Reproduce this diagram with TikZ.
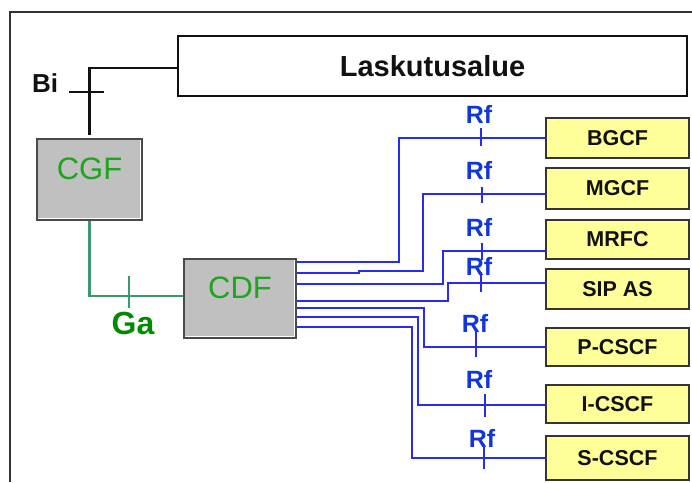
\documentclass[tikz,border=0pt]{standalone}
\usepackage{fontspec}
\setmainfont{Liberation Sans}
\usepackage{tikz}
\usetikzlibrary{positioning,calc}
\definecolor{ink}{HTML}{111111}
\definecolor{frameline}{HTML}{333333}
\definecolor{boxgray}{HTML}{C0C0C0}
\definecolor{boxedge}{HTML}{4A4A4A}
\definecolor{yellowbg}{HTML}{FFFF99}
\definecolor{fngreen}{HTML}{1EA51E}
\definecolor{gagreen}{HTML}{008A00}
\definecolor{greenline}{HTML}{3A9A6E}
\definecolor{rfblue}{HTML}{1236D8}
\definecolor{blueline}{HTML}{2A2AF5}
\tikzset{
  every node/.style={text=ink,inner sep=0pt},
  frame/.style={draw=frameline,line width=1.8pt},
  billing/.style={draw=ink,line width=1.5pt,fill=white,minimum width=509,minimum height=60,font=\fontsize{29}{32}\selectfont\bfseries},
  chargebox/.style={draw=boxedge,line width=1.6pt,fill=boxgray,text=fngreen,font=\fontsize{31}{34}\selectfont,text height=22pt,text depth=23pt},
  bevel/.style={draw=white,line width=1.4pt},
  nodebox/.style={draw=ink!85,line width=1.5pt,fill=yellowbg,minimum width=143,font=\fontsize{21.5}{24}\selectfont\bfseries},
  iflabel/.style={font=\fontsize{26}{29}\selectfont\bfseries},
  rflabel/.style={font=\fontsize{25}{28}\selectfont\bfseries,text=rfblue},
  galabel/.style={font=\fontsize{32}{35}\selectfont\bfseries,text=gagreen},
  biline/.style={draw=ink,line width=2.6pt},
  bitick/.style={draw=ink,line width=1.5pt},
  galine/.style={draw=greenline,line width=2.4pt},
  gatick/.style={draw=greenline,line width=1.4pt},
  rfline/.style={draw=blueline,line width=1.8pt},
  rftick/.style={draw=blueline,line width=1.5pt}
}
\begin{document}
\begin{tikzpicture}[x=1pt,y=-1pt]
  \useasboundingbox (0,0) rectangle (692,482);
  \draw[frame] (10,482) -- (10,12) -- (692,12);

  % billing domain and charging functions
  \node[billing] (lask) at (432.5,66) {Laskutusalue};
  \node[chargebox,minimum width=105,minimum height=81] (cgf) at (89.5,179.5) {CGF};
  \node[chargebox,minimum width=112,minimum height=79] (cdf) at (240,298.5) {CDF};
  \draw[bevel] ($(cgf.south west)+(2,-2.6)$) -- ($(cgf.south east)+(-2.6,-2.6)$) -- ($(cgf.north east)+(-2.6,2)$);
  \draw[bevel] ($(cdf.south west)+(2,-2.6)$) -- ($(cdf.south east)+(-2.6,-2.6)$) -- ($(cdf.north east)+(-2.6,2)$);

  % network elements
  \node[nodebox,minimum height=40] (bgcf) at (617.5,138) {BGCF};
  \node[nodebox,minimum height=41] (mgcf) at (617.5,188.5) {MGCF};
  \node[nodebox,minimum height=39] (mrfc) at (617.5,239.5) {MRFC};
  \node[nodebox,minimum height=40] (sipas) at (617.5,289) {SIP AS};
  \node[nodebox,minimum height=38] (pcscf) at (617.5,347) {P-CSCF};
  \node[nodebox,minimum height=38] (icscf) at (617.5,404) {I-CSCF};
  \node[nodebox,minimum height=44] (scscf) at (617.5,458) {S-CSCF};

  % interface labels
  \node[iflabel] (bi) at (45,83) {Bi};
  \node[galabel] (ga) at (133,323) {Ga};
  \node[rflabel] (rfa) at (479,114) {Rf};
  \node[rflabel] (rfb) at (479,170) {Rf};
  \node[rflabel] (rfc) at (479,227) {Rf};
  \node[rflabel] (rfd) at (479,266) {Rf};
  \node[rflabel] (rfe) at (475,323) {Rf};
  \node[rflabel] (rff) at (479,379) {Rf};
  \node[rflabel] (rfg) at (482,438) {Rf};

  % Bi and Ga
  \draw[biline] ([yshift=-2pt]lask.west) -| ([yshift=3pt]cgf.north);
  \draw[bitick] ($(bi.east)+(11,9)$) -- ++(35,0);
  \draw[galine] (cgf.south) |- ([yshift=2.5pt]cdf.west);
  \draw[gatick] ($(ga.north)+(-4,-35)$) -- ++(0,32);

  % Rf links
  \draw[rfline] ($(cdf.north east)+(0,4)$) -| ($(bgcf.west)+(-146,0)$) -- (bgcf.west);
  \draw[rfline] ($(cdf.north east)+(0,15)$) -- ++(62,0) -- ++(0,-2) -| ($(mgcf.west)+(-122,5.5)$) -- ($(mgcf.west)+(0,5.5)$);
  \draw[rfline] ($(cdf.north east)+(0,26)$) -| ($(mrfc.west)+(-102,11.5)$) -- ($(mrfc.west)+(0,11.5)$);
  \draw[rfline] ($(cdf.north east)+(0,43)$) -| ($(sipas.west)+(-97,-6)$) -- ($(sipas.west)+(0,-6)$);
  \draw[rfline] ($(cdf.north east)+(0,50)$) -| ($(pcscf.west)+(-121,0)$) -- (pcscf.west);
  \draw[rfline] ($(cdf.north east)+(0,59)$) -| ($(icscf.west)+(-127,1)$) -- ($(icscf.west)+(0,1)$);
  \draw[rfline] ($(cdf.north east)+(0,69)$) -| ($(scscf.west)+(-133,0)$) -- (scscf.west);

  \draw[rftick] ($(rfa.south)+(2,5)$) -- ++(0,18);
  \draw[rftick] ($(rfb.south)+(3,8)$) -- ++(0,16);
  \draw[rftick] ($(rfc.south)+(3,7)$) -- ++(0,17);
  \draw[rftick] ($(rfd.south)+(2,-3)$) -- ++(0,20);
  \draw[rftick] ($(rfe.south)+(1,-1)$) -- ++(0,26);
  \draw[rftick] ($(rff.south)+(6,6)$) -- ++(0,23);
  \draw[rftick] ($(rfg.south)+(2,-3)$) -- ++(0,25);
\end{tikzpicture}
\end{document}
